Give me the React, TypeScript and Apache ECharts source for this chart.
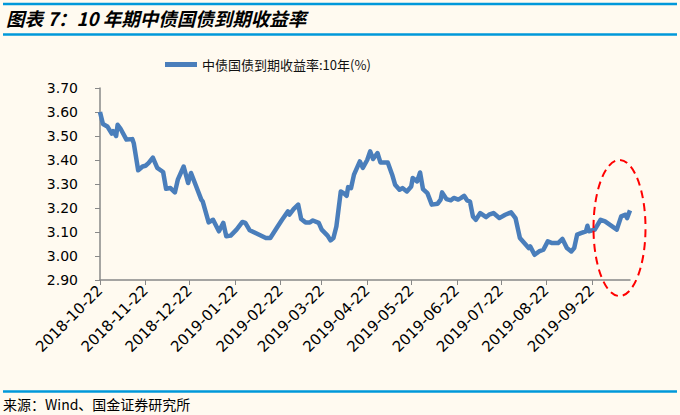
import React, { useEffect, useRef } from "react";
import * as echarts from "echarts";

// Axis range (calendar days on a category axis)
const startDay = "2018-10-22";
const endDay = "2019-10-18";
const tickLabels = [
  "2018-10-22", "2018-11-22", "2018-12-22", "2019-01-22", "2019-02-22", "2019-03-22",
  "2019-04-22", "2019-05-22", "2019-06-22", "2019-07-22", "2019-08-22", "2019-09-22",
];
const yTicks = { min: 2.9, max: 3.7, step: 0.1 };

// Series: 中债国债到期收益率:10年(%)
const dates = [
  "2018-10-22", "2018-10-24", "2018-10-27", "2018-10-30", "2018-10-31", "2018-11-02", "2018-11-03",
  "2018-11-05", "2018-11-09", "2018-11-13", "2018-11-14", "2018-11-17", "2018-11-20", "2018-11-22",
  "2018-11-24", "2018-11-27", "2018-11-30", "2018-12-04", "2018-12-06", "2018-12-09", "2018-12-12",
  "2018-12-14", "2018-12-18", "2018-12-21", "2018-12-23", "2018-12-30", "2018-12-31", "2019-01-04",
  "2019-01-07", "2019-01-11", "2019-01-14", "2019-01-16", "2019-01-19", "2019-01-23", "2019-01-27",
  "2019-01-29", "2019-02-01", "2019-02-06", "2019-02-12", "2019-02-15", "2019-02-20", "2019-02-23",
  "2019-02-27", "2019-02-28", "2019-03-03", "2019-03-06", "2019-03-08", "2019-03-11", "2019-03-14",
  "2019-03-16", "2019-03-20", "2019-03-22", "2019-03-26", "2019-03-28", "2019-03-30", "2019-04-01",
  "2019-04-04", "2019-04-06", "2019-04-08", "2019-04-09", "2019-04-11", "2019-04-13", "2019-04-17",
  "2019-04-19", "2019-04-22", "2019-04-24", "2019-04-26", "2019-04-29", "2019-05-01", "2019-05-06",
  "2019-05-09", "2019-05-11", "2019-05-14", "2019-05-16", "2019-05-19", "2019-05-22", "2019-05-23",
  "2019-05-26", "2019-05-28", "2019-05-30", "2019-06-02", "2019-06-05", "2019-06-09", "2019-06-11",
  "2019-06-12", "2019-06-15", "2019-06-18", "2019-06-20", "2019-06-23", "2019-06-25", "2019-06-27",
  "2019-06-29", "2019-07-01", "2019-07-03", "2019-07-05", "2019-07-08", "2019-07-12", "2019-07-14",
  "2019-07-17", "2019-07-21", "2019-07-25", "2019-07-29", "2019-08-01", "2019-08-04", "2019-08-07",
  "2019-08-10", "2019-08-11", "2019-08-14", "2019-08-17", "2019-08-20", "2019-08-23", "2019-08-26",
  "2019-08-30", "2019-09-02", "2019-09-05", "2019-09-08", "2019-09-10", "2019-09-12", "2019-09-15",
  "2019-09-18", "2019-09-19", "2019-09-20", "2019-09-24", "2019-09-28", "2019-10-01", "2019-10-09",
  "2019-10-12", "2019-10-15", "2019-10-16", "2019-10-18",
];
const yields = [
  3.60, 3.55, 3.54, 3.51, 3.52, 3.50, 3.547,
  3.53, 3.485, 3.487, 3.47, 3.357, 3.373, 3.376,
  3.387, 3.41, 3.367, 3.35, 3.28, 3.283, 3.265,
  3.318, 3.373, 3.304, 3.346, 3.235, 3.227, 3.14,
  3.151, 3.103, 3.138, 3.082, 3.085, 3.11, 3.142,
  3.138, 3.107, 3.093, 3.075, 3.075, 3.123, 3.151,
  3.186, 3.172, 3.196, 3.214, 3.154, 3.14, 3.14,
  3.148, 3.138, 3.11, 3.085, 3.065, 3.075, 3.123,
  3.269, 3.262, 3.251, 3.287, 3.283, 3.339, 3.394,
  3.367, 3.40, 3.436, 3.404, 3.429, 3.39, 3.39,
  3.339, 3.297, 3.276, 3.283, 3.269, 3.29, 3.325,
  3.311, 3.348, 3.279, 3.262, 3.214, 3.218, 3.235,
  3.265, 3.237, 3.232, 3.242, 3.235, 3.242, 3.251,
  3.232, 3.227, 3.165, 3.151, 3.179, 3.162, 3.172,
  3.179, 3.158, 3.172, 3.182, 3.158, 3.075, 3.054,
  3.033, 3.04, 3.005, 3.019, 3.026, 3.061, 3.054,
  3.054, 3.071, 3.033, 3.019, 3.033, 3.089, 3.096,
  3.103, 3.126, 3.103, 3.11, 3.151, 3.144, 3.11,
  3.165, 3.172, 3.158, 3.19,
];

const seriesName = "中债国债到期收益率:10年(%)";
const titleText = "图表 7：10 年期中债国债到期收益率";
const sourceText = "来源：Wind、国金证券研究所";

function buildDays(a: string, b: string): string[] {
  const out: string[] = [];
  let t = Date.parse(a + "T00:00:00Z");
  const end = Date.parse(b + "T00:00:00Z");
  while (t <= end) {
    out.push(new Date(t).toISOString().slice(0, 10));
    t += 86400000;
  }
  return out;
}

export default function App() {
  const ref = useRef<HTMLDivElement>(null);
  useEffect(() => {
    document.body.style.margin = "0";
    document.body.style.background = "#FFFAF0";
    const chart = echarts.init(ref.current!, undefined, { renderer: "svg" });
    const days = buildDays(startDay, endDay);
    const tickSet = new Set(tickLabels);
    const lineColor = "#0098DA";
    chart.setOption({
      animation: false,
      backgroundColor: "#FFFAF0",
      grid: { left: 100, right: 50, top: 88, bottom: 135, containLabel: false },
      legend: {
        left: 160,
        top: 53,
        icon: "rect",
        itemWidth: 32,
        itemHeight: 5,
        itemGap: 4,
        textStyle: { fontFamily: "Noto Sans CJK SC", fontSize: 13, color: "#111" },
        data: [seriesName],
      },
      xAxis: {
        type: "category",
        data: days,
        boundaryGap: false,
        axisLine: { lineStyle: { color: "#888", width: 1.5 } },
        axisTick: {
          show: true,
          length: 5,
          interval: (_i: number, v: string) => tickSet.has(v),
          lineStyle: { color: "#888" },
        },
        axisLabel: {
          interval: (_i: number, v: string) => tickSet.has(v),
          rotate: 45,
          margin: 8,
          fontFamily: "DejaVu Sans",
          fontSize: 15,
          color: "#000",
        },
        splitLine: { show: false },
      },
      yAxis: {
        type: "value",
        min: yTicks.min,
        max: yTicks.max,
        interval: yTicks.step,
        axisLine: { show: true, lineStyle: { color: "#888", width: 1.5 } },
        axisTick: { show: true, length: 5, lineStyle: { color: "#888" } },
        axisLabel: {
          formatter: (v: number) => v.toFixed(2),
          margin: 22,
          fontFamily: "DejaVu Sans",
          fontSize: 14,
          color: "#000",
        },
        splitLine: { show: false },
      },
      series: [
        {
          name: seriesName,
          type: "line",
          showSymbol: false,
          symbol: "none",
          data: dates.map((d, i) => [d, yields[i]]),
          lineStyle: { color: "#4A7EBB", width: 4.5, join: "round" },
          itemStyle: { color: "#4A7EBB" },
        },
      ],
      graphic: [
        { type: "line", shape: { x1: 3, y1: 4, x2: 677, y2: 4 }, style: { stroke: lineColor, lineWidth: 2.5 } },
        { type: "line", shape: { x1: 3, y1: 34.5, x2: 677, y2: 34.5 }, style: { stroke: lineColor, lineWidth: 2.5 } },
        {
          type: "text",
          left: 6,
          top: 9,
          style: {
            text: titleText,
            fontFamily: "Noto Sans CJK SC",
            fontSize: 18.5,
            fontWeight: "bold",
            fontStyle: "italic",
            fill: "#000",
          },
        },
        { type: "line", shape: { x1: 3, y1: 391.5, x2: 677, y2: 391.5 }, style: { stroke: lineColor, lineWidth: 2.5 } },
        {
          type: "text",
          left: 3,
          top: 397,
          style: { text: sourceText, fontFamily: "Noto Sans CJK SC", fontSize: 14, fill: "#000" },
        },
        {
          type: "ellipse",
          shape: { cx: 619.5, cy: 228, rx: 26, ry: 68 },
          style: { fill: "none", stroke: "#FF0000", lineWidth: 2, lineDash: [8, 5] },
          z: 100,
        },
      ],
    });
    return () => chart.dispose();
  }, []);
  return (
    <div
      ref={ref}
      style={{ position: "absolute", left: 0, top: 0, width: 680, height: 415 }}
    />
  );
}
